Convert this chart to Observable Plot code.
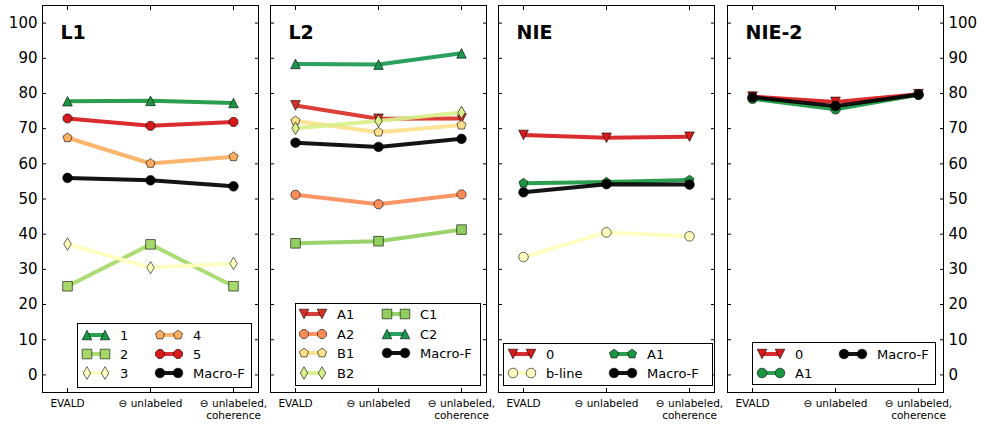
<!DOCTYPE html>
<html>
<head>
<meta charset="utf-8">
<script src="https://cdn.jsdelivr.net/npm/d3@7"></script>
<script src="https://cdn.jsdelivr.net/npm/@observablehq/plot@0.6"></script>
<style>
  html, body { margin: 0; padding: 0; background: #fff; }
  #wrap { position: relative; width: 983px; height: 426px; font-family: "DejaVu Sans", sans-serif; overflow: hidden; }
  .panel { position: absolute; top: 0; }
  .legend { position: absolute; border: 1px solid #000; background: #fff; box-sizing: border-box; }
  .legend span { position: absolute; font-size: 13px; line-height: 1; transform: translateY(-50%); white-space: nowrap; color: #000; }
</style>
</head>
<body>
<div id="wrap"></div>
<script>
// ---------------- data ----------------
const conditions = ["EVALD", "⊖ unlabeled", "⊖ unlabeled,\ncoherence"];
const yTicks = [0, 10, 20, 30, 40, 50, 60, 70, 80, 90, 100];
const panelTitles = ["L1", "L2", "NIE", "NIE-2"];

// L1
const l1Names = ["1", "2", "3", "4", "5", "Macro-F"];
const l1_1 = [77.8, 77.9, 77.3];
const l1_2 = [25.2, 37.1, 25.2];
const l1_3 = [37.2, 30.5, 31.7];
const l1_4 = [67.4, 60.1, 62.0];
const l1_5 = [72.9, 70.8, 71.9];
const l1_macro = [56.0, 55.3, 53.6];

// L2
const l2Names = ["A1", "A2", "B1", "B2", "C1", "C2", "Macro-F"];
const l2_A1 = [76.6, 72.8, 72.9];
const l2_A2 = [51.2, 48.5, 51.3];
const l2_B1 = [72.2, 69.0, 71.0];
const l2_B2 = [70.1, 72.2, 74.6];
const l2_C1 = [37.4, 38.0, 41.3];
const l2_C2 = [88.4, 88.2, 91.4];
const l2_macro = [66.0, 64.8, 67.1];

// NIE
const nieNames = ["0", "b-line", "A1", "Macro-F"];
const nie_0 = [68.2, 67.4, 67.7];
const nie_bline = [33.5, 40.5, 39.4];
const nie_A1 = [54.5, 54.8, 55.4];
const nie_macro = [51.9, 54.2, 54.1];

// NIE-2
const nie2Names = ["0", "A1", "Macro-F"];
const nie2_0 = [79.1, 77.6, 79.8];
const nie2_A1 = [78.5, 75.5, 79.6];
const nie2_macro = [78.9, 76.4, 79.7];

// ---------------- marker shapes ----------------
function polygon(n, rot) {
  return { draw(ctx, size) {
    const R = Math.sqrt(size / Math.PI);
    for (let i = 0; i < n; i++) {
      const a = rot + i * 2 * Math.PI / n;
      const x = R * Math.cos(a), y = R * Math.sin(a);
      if (i === 0) ctx.moveTo(x, y); else ctx.lineTo(x, y);
    }
    ctx.closePath();
  }};
}
const triUp = { draw(ctx, size) { const R = Math.sqrt(size / Math.PI);
  ctx.moveTo(0, -R); ctx.lineTo(R, R); ctx.lineTo(-R, R); ctx.closePath(); } };
const triDown = { draw(ctx, size) { const R = Math.sqrt(size / Math.PI);
  ctx.moveTo(0, R); ctx.lineTo(R, -R); ctx.lineTo(-R, -R); ctx.closePath(); } };
const square = { draw(ctx, size) { const R = Math.sqrt(size / Math.PI);
  ctx.rect(-R, -R, 2 * R, 2 * R); } };
const thinDiamond = { draw(ctx, size) { const R = Math.sqrt(size / Math.PI) * 1.3;
  ctx.moveTo(0, -R); ctx.lineTo(0.6 * R, 0); ctx.lineTo(0, R); ctx.lineTo(-0.6 * R, 0); ctx.closePath(); } };
const pentagon = polygon(5, -Math.PI / 2);
const octagon = polygon(8, Math.PI / 8);
const circle = d3.symbolCircle;

// ---------------- series (values + styles) ----------------
const panels = [
  { title: panelTitles[0], frameLeft: 42, mL: 42, mR: 6, yLabels: "left",
    series: [
      { name: l1Names[0], values: l1_1, color: "#1a9641", symbol: triUp },
      { name: l1Names[1], values: l1_2, color: "#a6d96a", symbol: square },
      { name: l1Names[2], values: l1_3, color: "#ffffbf", symbol: thinDiamond },
      { name: l1Names[3], values: l1_4, color: "#fdae61", symbol: pentagon },
      { name: l1Names[4], values: l1_5, color: "#d7191c", symbol: octagon },
      { name: l1Names[5], values: l1_macro, color: "#000000", symbol: circle }
    ],
    legend: { left: 77, top: 323, width: 175, height: 65, row0: 10.5, step: 19.4, cols: [{ x: 4, idx: [0, 1, 2] }, { x: 77, idx: [3, 4, 5] }] } },
  { title: panelTitles[1], frameLeft: 270, mL: 6, mR: 6, yLabels: null,
    series: [
      { name: l2Names[0], values: l2_A1, color: "#d73027", symbol: triDown },
      { name: l2Names[1], values: l2_A2, color: "#fc8d59", symbol: octagon },
      { name: l2Names[2], values: l2_B1, color: "#fee08b", symbol: pentagon },
      { name: l2Names[3], values: l2_B2, color: "#d9ef8b", symbol: thinDiamond },
      { name: l2Names[4], values: l2_C1, color: "#91cf60", symbol: square },
      { name: l2Names[5], values: l2_C2, color: "#1a9850", symbol: triUp },
      { name: l2Names[6], values: l2_macro, color: "#000000", symbol: circle }
    ],
    legend: { left: 295, top: 303, width: 186, height: 83, row0: 10, step: 19.6, cols: [{ x: 3, idx: [0, 1, 2, 3] }, { x: 86, idx: [4, 5, 6] }] } },
  { title: panelTitles[2], frameLeft: 498, mL: 6, mR: 6, yLabels: null,
    series: [
      { name: nieNames[0], values: nie_0, color: "#d7191c", symbol: triDown },
      { name: nieNames[1], values: nie_bline, color: "#ffffbf", symbol: circle },
      { name: nieNames[2], values: nie_A1, color: "#1a9641", symbol: pentagon },
      { name: nieNames[3], values: nie_macro, color: "#000000", symbol: circle }
    ],
    legend: { left: 503, top: 343, width: 210, height: 43, row0: 10, step: 19, cols: [{ x: 4, idx: [0, 1] }, { x: 105, idx: [2, 3] }] } },
  { title: panelTitles[3], frameLeft: 727, mL: 6, mR: 40, yLabels: "right",
    series: [
      { name: nie2Names[0], values: nie2_0, color: "#d7191c", symbol: triDown },
      { name: nie2Names[1], values: nie2_A1, color: "#1a9641", symbol: circle },
      { name: nie2Names[2], values: nie2_macro, color: "#000000", symbol: circle }
    ],
    legend: { left: 752, top: 342, width: 184, height: 43, row0: 10.5, step: 19, cols: [{ x: 4, idx: [0, 1] }, { x: 86, idx: [2] }] } }
];

// ---------------- drawing ----------------
const wrap = document.getElementById("wrap");
const FRAME_W = 216, H = 426, MT = 5, MB = 34;
const R = 4.8;

function drawPanel(p) {
  const marks = [];
  for (const s of p.series) {
    const rows = conditions.map((c, i) => ({ cond: c, v: s.values[i] }));
    marks.push(Plot.line(rows, { x: "cond", y: "v", stroke: s.color, strokeWidth: 4, strokeOpacity: 0.92 }));
    marks.push(Plot.dot(rows, { x: "cond", y: "v", fill: s.color, stroke: "#000", strokeWidth: 0.6, r: R, symbol: s.symbol }));
  }
  marks.push(Plot.frame({ stroke: "#000", strokeWidth: 1 }));
  marks.push(Plot.axisX(conditions, { anchor: "bottom", tickSize: -4, tickPadding: 9.5, fontSize: 10.5, lineHeight: 1.15, label: null }));
  marks.push(Plot.axisX(conditions, { anchor: "top", tickSize: -4, tickFormat: () => "", label: null }));
  marks.push(Plot.axisY(yTicks, { anchor: "left", tickSize: -4, tickPadding: 9, fontSize: 15,
    tickFormat: p.yLabels === "left" ? (d => String(d)) : (() => ""), label: null }));
  marks.push(Plot.axisY(yTicks, { anchor: "right", tickSize: -4, tickPadding: 9, fontSize: 15,
    tickFormat: p.yLabels === "right" ? (d => String(d)) : (() => ""), label: null }));
  marks.push(Plot.text([p.title], { text: d => d, frameAnchor: "top-left", dx: 18, dy: 20, fontSize: 19,
    fontWeight: "bold", textAnchor: "start", lineAnchor: "top", fill: "#000" }));

  const chart = Plot.plot({
    width: FRAME_W + p.mL + p.mR,
    height: H,
    marginLeft: p.mL, marginRight: p.mR, marginTop: MT, marginBottom: MB,
    x: { type: "point", domain: conditions, padding: 0.3 },
    y: { domain: [-5, 105] },
    style: { fontFamily: "DejaVu Sans", fontSize: "10px", background: "transparent", overflow: "visible", color: "#000" },
    marks
  });
  chart.classList.add("panel");
  chart.style.left = (p.frameLeft - p.mL) + "px";
  wrap.appendChild(chart);
}

function drawLegend(p) {
  const L = p.legend;
  const div = document.createElement("div");
  div.className = "legend";
  Object.assign(div.style, { left: L.left + "px", top: L.top + "px", width: L.width + "px", height: L.height + "px" });
  for (const col of L.cols) {
    col.idx.forEach((si, j) => {
      const s = p.series[si];
      const y = L.row0 + j * L.step;
      const svg = d3.create("svg").attr("width", 28).attr("height", 14)
        .style("position", "absolute").style("left", col.x + "px").style("top", (y - 7) + "px").style("overflow", "visible");
      svg.append("line").attr("x1", 5).attr("x2", 23).attr("y1", 7).attr("y2", 7)
        .attr("stroke", s.color).attr("stroke-width", 4).attr("stroke-opacity", 0.92);
      for (const cx of [5, 23]) {
        svg.append("path").attr("d", d3.symbol(s.symbol, Math.PI * R * R)())
          .attr("transform", `translate(${cx},7)`).attr("fill", s.color).attr("stroke", "#000").attr("stroke-width", 0.6);
      }
      div.appendChild(svg.node());
      const t = document.createElement("span");
      t.textContent = s.name;
      t.style.left = (col.x + 38) + "px";
      t.style.top = y + "px";
      div.appendChild(t);
    });
  }
  wrap.appendChild(div);
}

panels.forEach(drawPanel);
panels.forEach(drawLegend);
</script>
</body>
</html>
